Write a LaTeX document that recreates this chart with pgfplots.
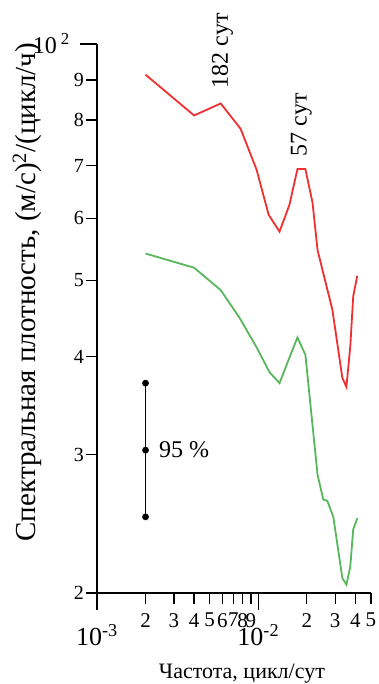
\documentclass[border=0pt]{standalone}
\usepackage{pgfplots}
\pgfplotsset{compat=1.18}
\usepackage{fontspec}
\setmainfont{Liberation Serif}
\definecolor{myred}{RGB}{238,48,48}
\definecolor{mygreen}{RGB}{88,182,92}
\begin{document}
\begin{tikzpicture}
\path[use as bounding box] (-97pt,-91pt) rectangle (282pt,593pt);
\begin{axis}[
  at={(0,0)}, anchor=south west,
  scale only axis, width=274pt, height=549pt,
  xmode=log, ymode=log,
  xmin=0.001, xmax=0.05, ymin=2, ymax=10,
  clip=false,
  axis x line*=bottom, axis y line*=left,
  axis line style={line width=1.3pt},
  tick align=outside,
  major tick length=11pt,
  every tick/.style={black, line width=1.3pt},
  xminorticks=false, yminorticks=false,
  xtick={0.002,0.003,0.004,0.005,0.006,0.007,0.008,0.009,0.02,0.03,0.04,0.05},
  xticklabels={2,3,4,5,6,7,8,9,2,3,4,5},
  x tick label style={font=\fontsize{21}{23}\selectfont, inner sep=1pt, yshift=-8pt},
  extra x ticks={0.001,0.01},
  extra x tick labels={{\fontsize{26}{28}\selectfont 10\textsuperscript{-3}},{\fontsize{26}{28}\selectfont 10\textsuperscript{-2}}},
  extra x tick style={major tick length=17pt, tick label style={yshift=-5pt}},
  ytick={2,3,4,5,6,7,8,9},
  yticklabels={2,3,4,5,6,7,8,9},
  y tick label style={font=\fontsize{20}{22}\selectfont, inner sep=2pt},
  extra y ticks={10},
  extra y tick labels={{\fontsize{24}{26}\selectfont 10\hspace{4pt}\textsuperscript{2}}},
  extra y tick style={major tick length=17pt, tick label style={xshift=-8pt}},
  xlabel={Частота, цикл/сут},
  x label style={at={(axis description cs:0.529,0)}, anchor=center, yshift=-81pt, font=\fontsize{22}{24}\selectfont},
  ylabel={Спектральная плотность, (м/с)\textsuperscript{2}/(цикл/ч)},
  y label style={at={([xshift=-70pt]axis description cs:0,0.548)}, anchor=center, font=\fontsize{29}{31}\selectfont},
]
\addplot[myred, line width=1.8pt] coordinates {
(0.002,9.14) (0.004,8.11) (0.00585,8.40) (0.00777,7.80) (0.00976,6.92)
(0.0116,6.06) (0.01355,5.77) (0.0156,6.24) (0.0175,6.93) (0.0196,6.93)
(0.0217,6.28) (0.0233,5.47) (0.0257,5.04) (0.0288,4.59) (0.0332,3.76)
(0.0352,3.66) (0.0372,4.12) (0.0388,4.77) (0.0411,5.07)};
\addplot[mygreen, line width=1.8pt] coordinates {
(0.002,5.41) (0.004,5.19) (0.00585,4.86) (0.00766,4.48) (0.00976,4.11)
(0.01175,3.82) (0.01355,3.70) (0.0154,3.96) (0.0175,4.23) (0.0196,4.02)
(0.0233,2.83) (0.0253,2.63) (0.0268,2.62) (0.0292,2.50) (0.0332,2.09)
(0.0352,2.05) (0.0372,2.16) (0.0388,2.41) (0.0411,2.49)};
\addplot[black, line width=1.5pt, mark=*, mark size=2.6pt] coordinates {
(0.002,2.50) (0.002,3.04) (0.002,3.70)};
\node[anchor=west, inner sep=0pt, font=\fontsize{24}{26}\selectfont] at (axis cs:0.00242,3.04) {95 \%};
\node[rotate=90, font=\fontsize{24}{26}\selectfont] at (axis cs:0.00601,9.80) {182 сут};
\node[rotate=90, font=\fontsize{24}{26}\selectfont] at (axis cs:0.01853,7.89) {57 сут};
\end{axis}
\end{tikzpicture}
\end{document}
